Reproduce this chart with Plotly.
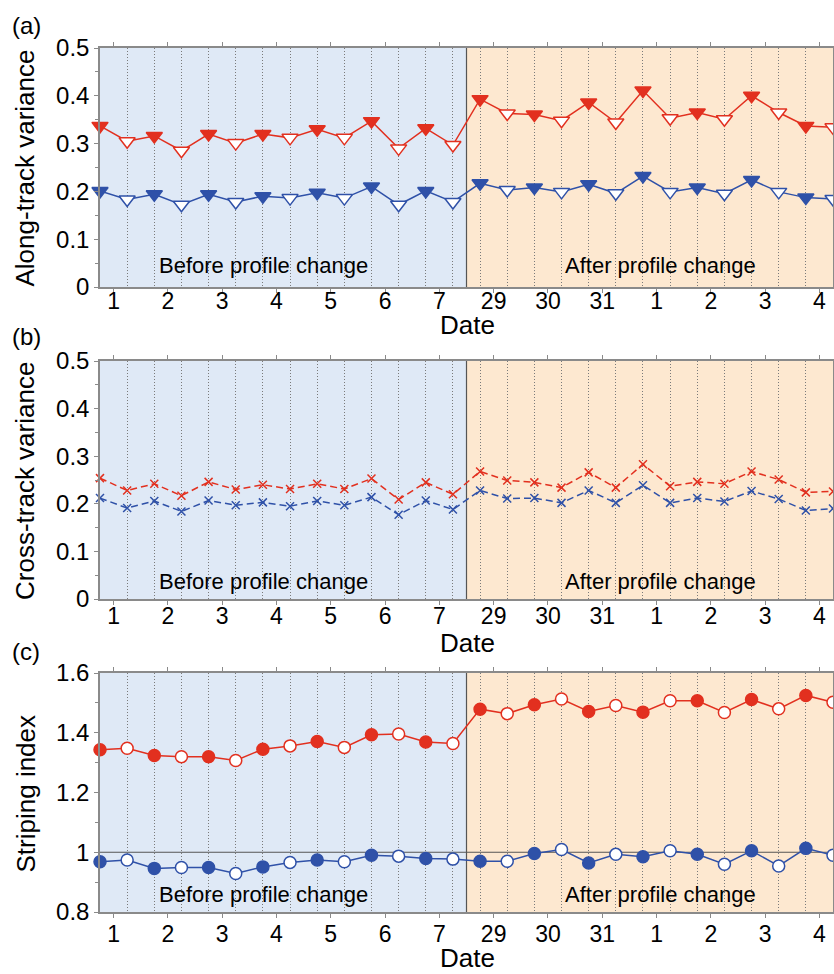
import plotly.graph_objects as go

# ---- data -------------------------------------------------------------
# two samples per day; day slots 1..7 before the change, 8..14 after
day_labels = ["1", "2", "3", "4", "5", "6", "7", "29", "30", "31", "1", "2", "3", "4"]
day_slots = list(range(1, 15))
sample_x = [d + off for d in day_slots for off in (-0.25, 0.25)]

along_red = [0.337, 0.305, 0.316, 0.285, 0.320, 0.301, 0.320, 0.312, 0.330, 0.312,
             0.347, 0.290, 0.332, 0.297, 0.393, 0.363, 0.361, 0.348, 0.386, 0.344,
             0.411, 0.353, 0.365, 0.351, 0.400, 0.365, 0.337, 0.334]
along_blue = [0.201, 0.183, 0.194, 0.172, 0.194, 0.178, 0.190, 0.186, 0.197, 0.186,
              0.210, 0.172, 0.201, 0.178, 0.217, 0.203, 0.208, 0.199, 0.215, 0.196,
              0.232, 0.199, 0.208, 0.195, 0.224, 0.199, 0.187, 0.184]

cross_red = [0.254, 0.228, 0.242, 0.217, 0.246, 0.230, 0.240, 0.231, 0.242, 0.231,
             0.253, 0.209, 0.245, 0.220, 0.268, 0.249, 0.245, 0.234, 0.266, 0.234,
             0.283, 0.237, 0.246, 0.242, 0.268, 0.251, 0.224, 0.226]
cross_blue = [0.212, 0.191, 0.206, 0.184, 0.207, 0.197, 0.203, 0.195, 0.206, 0.197,
              0.214, 0.177, 0.207, 0.188, 0.228, 0.211, 0.212, 0.202, 0.228, 0.202,
              0.239, 0.202, 0.212, 0.205, 0.227, 0.210, 0.186, 0.190]

stripe_red = [1.343, 1.348, 1.324, 1.320, 1.320, 1.307, 1.345, 1.356, 1.371, 1.351,
              1.393, 1.396, 1.369, 1.364, 1.479, 1.464, 1.494, 1.513, 1.471, 1.491,
              1.469, 1.507, 1.507, 1.468, 1.511, 1.480, 1.525, 1.502]
stripe_blue = [0.968, 0.974, 0.946, 0.949, 0.949, 0.929, 0.951, 0.966, 0.974, 0.968,
               0.990, 0.987, 0.979, 0.977, 0.970, 0.970, 0.996, 1.009, 0.964, 0.993,
               0.985, 1.005, 0.993, 0.960, 1.005, 0.954, 1.013, 0.990]

change_at = 7.5
panel_tags = ["(a)", "(b)", "(c)"]
y_titles = ["Along-track variance", "Cross-track variance", "Striping index"]
y_ranges = [(0, 0.5), (0, 0.5), (0.8, 1.6)]
y_dticks = [0.1, 0.1, 0.2]
before_text = "Before profile change"
after_text = "After profile change"

# ---- style ------------------------------------------------------------
W, H = 834, 974
RED = "#E2301F"
BLUE = "#2F51A8"
BG_BEFORE = "#DFE9F6"
BG_AFTER = "#FDE8D0"
FRAME = "#8A8A8A"
FONT = "Liberation Sans, Arial, sans-serif"

# pixel boxes of the three panels (top, bottom)
panel_px = [(48, 287), (361, 599), (673, 912)]
x_left, x_right = 100, 833
date_y_px = [325, 643, 958]
label_y_px = [25, 336, 651]
note_y = [0.044, 0.037, 0.859]
tick_standoff = [-11, -8, -3]
TICK_SIZE = 23


def py(px):
    return 1 - px / H


fig = go.Figure()
layout = dict(
    width=W, height=H, margin=dict(l=0, r=0, t=0, b=0, autoexpand=False),
    paper_bgcolor="white", plot_bgcolor="white",
    showlegend=False, font=dict(family=FONT, color="black"),
    shapes=[], annotations=[],
)

for i in range(3):
    n = "" if i == 0 else str(i + 1)
    xa, ya = "x" + n, "y" + n
    top, bot = panel_px[i]
    layout["xaxis" + n] = dict(
        domain=[x_left / W, x_right / W], anchor=ya, automargin=False,
        range=[0.75, 14.25], tickmode="array", tickvals=day_slots, ticktext=day_labels,
        ticks="outside", ticklen=4, tickcolor=FRAME, tickwidth=1,
        showline=True, linecolor=FRAME, linewidth=1.5, mirror="ticks",
        showgrid=False, zeroline=False,
        tickfont=dict(size=TICK_SIZE, family=FONT, color="black"),
        ticklabelstandoff=tick_standoff[i],
        minor=dict(tick0=0.75, dtick=0.5, showgrid=True, gridcolor="#7A7A7A",
                   gridwidth=1, griddash="1px,2px", ticks=""),
    )
    y0, y1 = y_ranges[i]
    layout["yaxis" + n] = dict(
        domain=[py(bot), py(top)], anchor=xa, automargin=False,
        range=[y0, y1], tick0=y0, dtick=y_dticks[i],
        ticks="outside", ticklen=4, tickcolor=FRAME, tickwidth=1,
        showline=True, linecolor=FRAME, linewidth=1.5, mirror="ticks",
        showgrid=False, zeroline=False,
        tickfont=dict(size=TICK_SIZE + 1, family=FONT, color="black"),
        minor=dict(dtick=y_dticks[i] / 2, ticks="outside", ticklen=3, tickcolor=FRAME),
    )
    # shaded periods and the change marker
    layout["shapes"] += [
        dict(type="rect", xref=xa, yref=ya + " domain", x0=0.75, x1=change_at, y0=0, y1=1,
             fillcolor=BG_BEFORE, line=dict(width=0), layer="below"),
        dict(type="rect", xref=xa, yref=ya + " domain", x0=change_at, x1=14.25, y0=0, y1=1,
             fillcolor=BG_AFTER, line=dict(width=0), layer="below"),
        dict(type="line", xref=xa, yref=ya + " domain", x0=change_at, x1=change_at, y0=0, y1=1,
             line=dict(color="#555555", width=1.2), layer="below"),
    ]
    # texts
    layout["annotations"] += [
        dict(text=panel_tags[i], xref="paper", yref="paper", x=10 / W, y=py(label_y_px[i]),
             xanchor="left", yanchor="middle", showarrow=False, font=dict(size=24)),
        dict(text=y_titles[i], xref="paper", yref="paper", x=25 / W, y=py((top + bot) / 2 + 1),
             xanchor="center", yanchor="middle", textangle=-90, showarrow=False,
             font=dict(size=26)),
        dict(text="Date", xref="paper", yref="paper", x=468 / W, y=py(date_y_px[i]),
             xanchor="center", yanchor="middle", showarrow=False, font=dict(size=26)),
        dict(text=before_text, xref=xa, yref=ya, x=1.80, y=note_y[i],
             xanchor="left", yanchor="middle", showarrow=False, font=dict(size=22)),
        dict(text=after_text, xref=xa, yref=ya, x=9.28, y=note_y[i],
             xanchor="left", yanchor="middle", showarrow=False, font=dict(size=22)),
    ]

# reference level for the striping index
layout["shapes"].append(dict(type="line", xref="x3 domain", yref="y3", x0=0, x1=1, y0=1, y1=1,
                             line=dict(color="#555555", width=1.2), layer="below"))


def alt_fill(color):
    return [color if k % 2 == 0 else "white" for k in range(len(sample_x))]


# (a) along-track variance: triangles, filled/open alternating
for vals, col in ((along_red, RED), (along_blue, BLUE)):
    fig.add_trace(go.Scatter(
        x=sample_x, y=vals, xaxis="x", yaxis="y", mode="lines+markers", cliponaxis=False,
        line=dict(color=col, width=1.5),
        marker=dict(symbol="triangle-down", size=14, color=alt_fill(col),
                    line=dict(color=col, width=1.5)),
    ))

# (b) cross-track variance: crosses on dashed lines
for vals, col in ((cross_red, RED), (cross_blue, BLUE)):
    fig.add_trace(go.Scatter(
        x=sample_x, y=vals, xaxis="x2", yaxis="y2", mode="lines+markers", cliponaxis=False,
        line=dict(color=col, width=1.5, dash="7px,4px"),
        marker=dict(symbol="x-thin", size=8, color=col, line=dict(color=col, width=1.5)),
    ))

# (c) striping index: circles, filled/open alternating
for vals, col in ((stripe_red, RED), (stripe_blue, BLUE)):
    fig.add_trace(go.Scatter(
        x=sample_x, y=vals, xaxis="x3", yaxis="y3", mode="lines+markers", cliponaxis=False,
        line=dict(color=col, width=1.5),
        marker=dict(symbol="circle", size=12, color=alt_fill(col),
                    line=dict(color=col, width=1.5)),
    ))

fig.update_layout(**layout)
fig.write_html("out.html")
